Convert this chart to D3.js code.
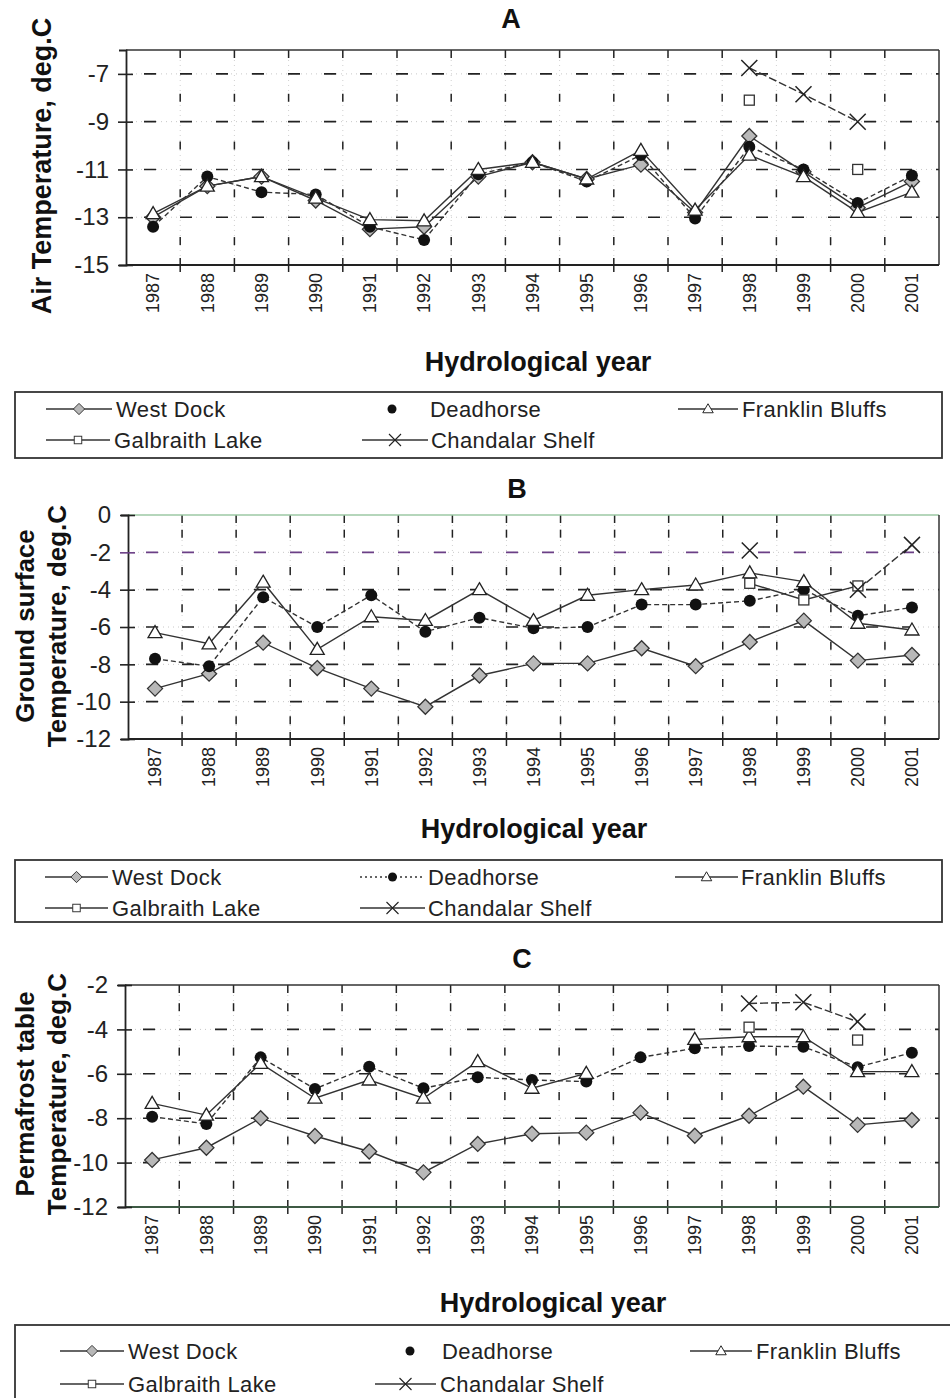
<!DOCTYPE html>
<html>
<head>
<meta charset="utf-8">
<script src="https://cdn.jsdelivr.net/npm/d3@7"></script>
<style>
body { margin: 0; background: #fff; }
svg { font-family: Arial, "Liberation Sans", sans-serif; }
</style>
</head>
<body>
<svg id="chart" width="950" height="1398"></svg>
<script>
var years = ["1987", "1988", "1989", "1990", "1991", "1992", "1993", "1994", "1995", "1996", "1997", "1998", "1999", "2000", "2001"];
var stations = ["West Dock", "Deadhorse", "Franklin Bluffs", "Galbraith Lake", "Chandalar Shelf"];

// A - air temperature
var airWestDock  = [-13.0, -11.7, -11.3, -12.3, -13.5, -13.4, -11.3, -10.7, -11.4, -10.8, -12.8, -9.6, -11.1, -12.6, -11.5];
var airDeadhorse = [-13.4, -11.3, -11.95, -12.05, -13.4, -13.95, -11.2, -10.7, -11.5, -10.4, -13.05, -10.05, -11.0, -12.4, -11.25];
var airFranklin  = [-12.85, -11.7, -11.3, -12.2, -13.1, -13.15, -11.0, -10.7, -11.4, -10.2, -12.7, -10.4, -11.3, -12.8, -11.95];
var airGalbraith = [null, null, null, null, null, null, null, null, null, null, null, -8.1, null, -11.0, null];
var airChandalar = [null, null, null, null, null, null, null, null, null, null, null, -6.75, -7.85, -9.0, null];
var airTicks = [-7, -9, -11, -13, -15];

// B - ground surface temperature
var gsWestDock  = [-9.3, -8.5, -6.84, -8.2, -9.3, -10.27, -8.6, -7.95, -7.95, -7.14, -8.1, -6.8, -5.66, -7.8, -7.5];
var gsDeadhorse = [-7.7, -8.1, -4.4, -6.0, -4.3, -6.25, -5.5, -6.07, -6.0, -4.8, -4.8, -4.6, -4.0, -5.4, -4.95];
var gsFranklin  = [-6.3, -6.9, -3.6, -7.2, -5.45, -5.65, -4.0, -5.65, -4.3, -4.0, -3.75, -3.1, -3.57, -5.8, -6.16];
var gsGalbraith = [null, null, null, null, null, null, null, null, null, null, null, -3.66, -4.55, -3.8, null];
var gsChandalar = [null, null, null, null, null, null, null, null, null, null, null, -1.9, null, -4.0, -1.6];
var gsTicks = [0, -2, -4, -6, -8, -10, -12];

// C - permafrost table temperature
var pfWestDock  = [-9.88, -9.33, -8.0, -8.8, -9.5, -10.44, -9.16, -8.7, -8.65, -7.75, -8.79, -7.89, -6.58, -8.3, -8.08];
var pfDeadhorse = [-7.93, -8.26, -5.26, -6.68, -5.68, -6.65, -6.16, -6.28, -6.35, -5.26, -4.85, -4.75, -4.78, -5.7, -5.05];
var pfFranklin  = [-7.33, -7.86, -5.53, -7.1, -6.28, -7.1, -5.45, -6.65, -5.98, null, -4.45, -4.33, -4.33, -5.9, -5.9];
var pfGalbraith = [null, null, null, null, null, null, null, null, null, null, null, -3.9, null, -4.48, null];
var pfChandalar = [null, null, null, null, null, null, null, null, null, null, null, -2.83, -2.78, -3.65, null];
var pfTicks = [-2, -4, -6, -8, -10, -12];

var svg = d3.select("#chart");

var styles = {
	"West Dock":       {marker: "diamond", dash: null},
	"Deadhorse":       {marker: "circle",  dash: "5,3"},
	"Franklin Bluffs": {marker: "triangle", dash: null},
	"Galbraith Lake":  {marker: "square",  dash: null},
	"Chandalar Shelf": {marker: "cross",   dash: "8,3"}
};

function drawMarker(g, type, x, y) {
	if (type == "diamond") {
		g.append("path").attr("d", "M0,-7.5L7.5,0L0,7.5L-7.5,0Z")
			.attr("transform", "translate(" + x + "," + y + ")")
			.attr("fill", "#b8b8b8").attr("stroke", "#333").attr("stroke-width", 1.3);
	} else if (type == "circle") {
		g.append("circle").attr("cx", x).attr("cy", y).attr("r", 6).attr("fill", "#111");
	} else if (type == "triangle") {
		g.append("path").attr("d", "M0,-7L7,5L-7,5Z")
			.attr("transform", "translate(" + x + "," + y + ")")
			.attr("fill", "#fff").attr("stroke", "#222").attr("stroke-width", 1.3);
	} else if (type == "square") {
		g.append("rect").attr("x", x - 5).attr("y", y - 5).attr("width", 10).attr("height", 10)
			.attr("fill", "#fff").attr("stroke", "#333").attr("stroke-width", 1.3);
	} else if (type == "cross") {
		g.append("path").attr("d", "M-8,-8L8,8M-8,8L8,-8")
			.attr("transform", "translate(" + x + "," + y + ")")
			.attr("stroke", "#222").attr("stroke-width", 1.5);
	}
}

function drawPanel(p) {
	var x = d3.scaleBand().domain(years).range([p.left, p.right]);
	var y = d3.scaleLinear().domain(p.yDomain).range([p.bottom, p.top]);
	var bw = x.bandwidth();
	var g = svg.append("g");

	// horizontal gridlines
	p.yTicks.forEach(function(t) {
		if (y(t) >= p.bottom - 1 || y(t) <= p.top + 1) return;
		g.append("line").attr("x1", p.left).attr("x2", p.right).attr("y1", y(t)).attr("y2", y(t))
			.attr("stroke", "#c8c8c8").attr("stroke-dasharray", "1,4");
		g.append("line").attr("x1", p.left + 18).attr("x2", p.right).attr("y1", y(t)).attr("y2", y(t))
			.attr("stroke", t == p.purple ? "#6b3f86" : "#222").attr("stroke-width", 1.6)
			.attr("stroke-dasharray", "12,24");
	});

	// vertical gridlines at category boundaries
	var bounds = years.slice(1).map(function(d) { return x(d); });
	var mids = d3.range(p.yTicks.length - 1).map(function(i) { return y((p.yTicks[i] + p.yTicks[i + 1]) / 2); });
	bounds.forEach(function(bx) {
		g.append("line").attr("x1", bx).attr("x2", bx).attr("y1", p.top).attr("y2", p.bottom)
			.attr("stroke", "#d0d0d0").attr("stroke-dasharray", "1,4");
		g.append("line").attr("x1", bx).attr("x2", bx).attr("y1", p.top).attr("y2", p.top + 8)
			.attr("stroke", "#222").attr("stroke-width", 1.5);
		g.append("line").attr("x1", bx).attr("x2", bx).attr("y1", p.bottom - 7).attr("y2", p.bottom + 7)
			.attr("stroke", "#222").attr("stroke-width", 1.5);
		mids.forEach(function(my) {
			g.append("line").attr("x1", bx).attr("x2", bx).attr("y1", my - 4).attr("y2", my + 4)
				.attr("stroke", "#222").attr("stroke-width", 1.5);
		});
	});

	// frame
	g.append("line").attr("x1", p.left).attr("x2", p.right).attr("y1", p.top).attr("y2", p.top)
		.attr("stroke", p.topColor || "#333").attr("stroke-width", 1.5);
	g.append("line").attr("x1", p.right).attr("x2", p.right).attr("y1", p.top).attr("y2", p.bottom)
		.attr("stroke", "#333").attr("stroke-width", 1.5);
	g.append("line").attr("x1", p.left).attr("x2", p.right).attr("y1", p.bottom).attr("y2", p.bottom)
		.attr("stroke", p.bottomColor || "#222").attr("stroke-width", 1.8);

	// y axis
	var yAxis = g.append("g").attr("transform", "translate(" + p.left + ",0)")
		.call(d3.axisLeft(y).tickValues(p.yTicks).tickSize(7).tickPadding(10)
			.tickFormat(function(d) { return String(d); }));
	yAxis.select(".domain").attr("stroke", "#222").attr("stroke-width", 1.8);
	yAxis.selectAll(".tick line").attr("x1", 7).attr("x2", -8).attr("stroke", "#222").attr("stroke-width", 1.6);
	yAxis.selectAll(".tick text").attr("font-size", "24px").attr("fill", "#222")
		.attr("font-family", "Arial, 'Liberation Sans', sans-serif");
	if (p.purple != null) {
		yAxis.selectAll(".tick").filter(function(d) { return d == p.purple; }).select("line").attr("stroke", "#6b3f86");
	}

	// x axis labels
	var xAxis = g.append("g").attr("transform", "translate(0," + p.bottom + ")")
		.call(d3.axisBottom(x).tickSize(0));
	xAxis.select(".domain").remove();
	xAxis.selectAll(".tick text")
		.attr("transform", "rotate(-90)")
		.attr("x", -8).attr("y", 0).attr("dy", "0.35em")
		.attr("text-anchor", "end")
		.attr("font-size", "18px").attr("fill", "#222")
		.attr("font-family", "Arial, 'Liberation Sans', sans-serif");

	// series
	p.series.forEach(function(s) {
		var st = styles[s.name];
		var pts = s.values.map(function(v, i) { return {x: x(years[i]) + bw / 2, v: v}; });
		var line = d3.line().defined(function(d) { return d.v != null; })
			.x(function(d) { return d.x; }).y(function(d) { return y(d.v); });
		g.append("path").attr("d", line(pts)).attr("fill", "none")
			.attr("stroke", "#333").attr("stroke-width", 1.4)
			.attr("stroke-dasharray", st.dash);
	});
	p.series.forEach(function(s) {
		var st = styles[s.name];
		s.values.forEach(function(v, i) {
			if (v == null) return;
			drawMarker(g, st.marker, x(years[i]) + bw / 2, y(v));
		});
	});

	// titles
	svg.append("text").attr("x", p.letterX).attr("y", p.letterY).attr("text-anchor", "middle")
		.attr("font-size", "27px").attr("font-weight", "bold").attr("fill", "#111").text(p.letter);
	svg.append("text").attr("x", p.xTitleX).attr("y", p.xTitleY).attr("text-anchor", "middle")
		.attr("font-size", "27px").attr("font-weight", "bold").attr("fill", "#111").text("Hydrological year");
	p.yTitle.forEach(function(t, i) {
		svg.append("text")
			.attr("transform", "translate(" + p.yTitleX[i] + "," + p.yTitleY + ") rotate(-90)")
			.attr("text-anchor", "middle").attr("dy", "0.35em")
			.attr("font-size", p.yTitleSize + "px").attr("font-weight", "bold").attr("fill", "#111").text(t);
	});
}

function drawLegend(l) {
	var g = svg.append("g");
	g.append("rect").attr("x", l.x).attr("y", l.y).attr("width", l.w).attr("height", l.h)
		.attr("fill", "none").attr("stroke", "#333").attr("stroke-width", 1.8);
	l.items.forEach(function(it, i) {
		var st = styles[stations[i]];
		var ry = l.rows[it.row];
		if (it.line) {
			g.append("line").attr("x1", it.x1).attr("x2", it.x2).attr("y1", ry).attr("y2", ry)
				.attr("stroke", "#333").attr("stroke-width", 1.5)
				.attr("stroke-dasharray", stations[i] == "Deadhorse" ? "2,3" : null);
		}
		var m = g.append("g").attr("transform", "translate(" + ((it.x1 + it.x2) / 2) + "," + ry + ") scale(0.75)");
		drawMarker(m, st.marker, 0, 0);
		g.append("text").attr("x", it.tx).attr("y", ry).attr("dy", "0.35em")
			.attr("font-size", "22px").attr("fill", "#222").attr("letter-spacing", "0.4px").text(stations[i]);
	});
}

drawPanel({
	letter: "A", letterX: 511, letterY: 28,
	left: 126, right: 939, top: 50, bottom: 265,
	yDomain: [-15, -6], yTicks: airTicks,
	xTitleX: 538, xTitleY: 371,
	yTitle: ["Air Temperature, deg.C"], yTitleX: [42], yTitleY: 166, yTitleSize: 27,
	series: [
		{name: "West Dock", values: airWestDock},
		{name: "Deadhorse", values: airDeadhorse},
		{name: "Franklin Bluffs", values: airFranklin},
		{name: "Galbraith Lake", values: airGalbraith},
		{name: "Chandalar Shelf", values: airChandalar}
	]
});
drawLegend({
	x: 15, y: 392, w: 927, h: 66, rows: [409, 440],
	items: [
		{row: 0, line: true, x1: 46, x2: 112, tx: 116},
		{row: 0, line: false, x1: 392, x2: 392, tx: 430},
		{row: 0, line: true, x1: 678, x2: 738, tx: 742},
		{row: 1, line: true, x1: 46, x2: 110, tx: 114},
		{row: 1, line: true, x1: 362, x2: 428, tx: 431}
	]
});

drawPanel({
	letter: "B", letterX: 517, letterY: 498,
	left: 128, right: 939, top: 515, bottom: 739,
	yDomain: [-12, 0], yTicks: gsTicks, purple: -2, topColor: "#9cc8a4",
	xTitleX: 534, xTitleY: 838,
	yTitle: ["Ground surface", "Temperature, deg.C"], yTitleX: [25, 57], yTitleY: 626, yTitleSize: 26,
	series: [
		{name: "West Dock", values: gsWestDock},
		{name: "Deadhorse", values: gsDeadhorse},
		{name: "Franklin Bluffs", values: gsFranklin},
		{name: "Galbraith Lake", values: gsGalbraith},
		{name: "Chandalar Shelf", values: gsChandalar}
	]
});
drawLegend({
	x: 15, y: 860, w: 927, h: 62, rows: [877, 908],
	items: [
		{row: 0, line: true, x1: 45, x2: 108, tx: 112},
		{row: 0, line: true, x1: 360, x2: 425, tx: 428},
		{row: 0, line: true, x1: 675, x2: 738, tx: 741},
		{row: 1, line: true, x1: 45, x2: 108, tx: 112},
		{row: 1, line: true, x1: 360, x2: 425, tx: 428}
	]
});

drawPanel({
	letter: "C", letterX: 522, letterY: 968,
	left: 125, right: 939, top: 985, bottom: 1207,
	yDomain: [-12, -2], yTicks: pfTicks, bottomColor: "#3d5a44",
	xTitleX: 553, xTitleY: 1312,
	yTitle: ["Permafrost table", "Temperature, deg.C"], yTitleX: [25, 57], yTitleY: 1094, yTitleSize: 26,
	series: [
		{name: "West Dock", values: pfWestDock},
		{name: "Deadhorse", values: pfDeadhorse},
		{name: "Franklin Bluffs", values: pfFranklin},
		{name: "Galbraith Lake", values: pfGalbraith},
		{name: "Chandalar Shelf", values: pfChandalar}
	]
});
drawLegend({
	x: 15, y: 1325, w: 960, h: 100, rows: [1351, 1384],
	items: [
		{row: 0, line: true, x1: 60, x2: 124, tx: 128},
		{row: 0, line: false, x1: 410, x2: 410, tx: 442},
		{row: 0, line: true, x1: 690, x2: 752, tx: 756},
		{row: 1, line: true, x1: 60, x2: 124, tx: 128},
		{row: 1, line: true, x1: 375, x2: 436, tx: 440}
	]
});
</script>
</body>
</html>
